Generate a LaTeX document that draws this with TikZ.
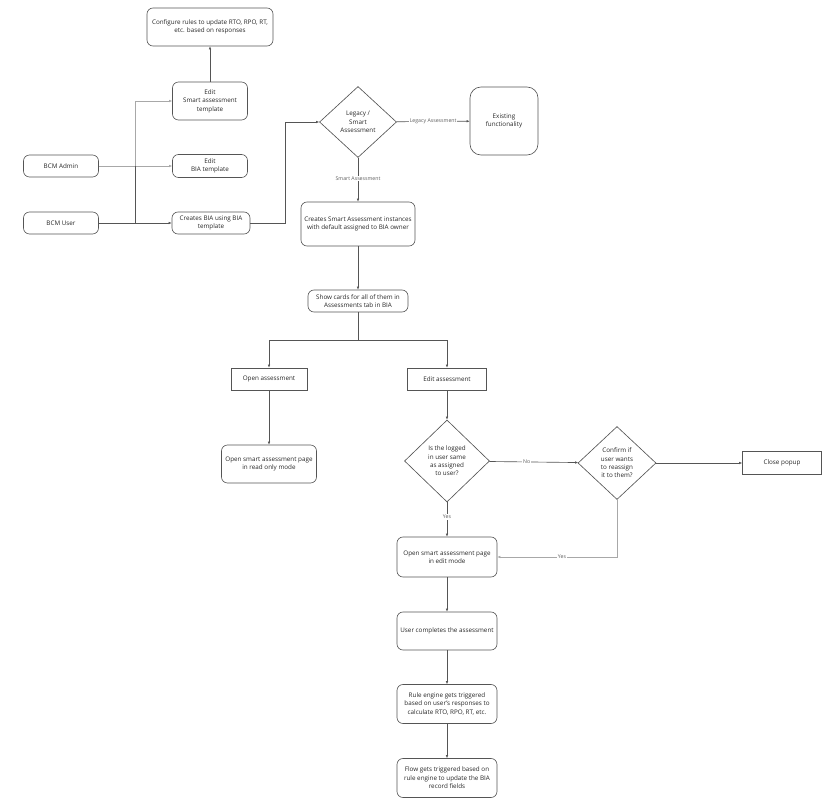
\documentclass[tikz,border=0pt]{standalone}
\usepackage{fontspec}
\setmainfont{Open Sans}
\usetikzlibrary{arrows.meta,shapes.geometric}
\definecolor{flink}{HTML}{262626}
\definecolor{flline}{HTML}{555555}
\definecolor{fllite}{HTML}{A8A8A8}
\definecolor{flmute}{HTML}{5E5E5E}
\tikzset{
  bx/.style={draw=flline, align=center, font=\fontsize{6.3}{8.4}\selectfont, text=flink, inner sep=1pt, line width=0.65pt},
  rbox/.style={bx, rounded corners=6pt},
  sbox/.style={bx},
  dia/.style={bx, diamond, inner sep=0pt},
  arr/.style={-{Latex[length=3pt,width=2.6pt]}, line width=0.65pt, color=flline},
  arrl/.style={-{Latex[length=3pt,width=2.6pt]}, line width=0.8pt, color=fllite},
  lbl/.style={font=\fontsize{5.2}{6}\selectfont, text=flmute, fill=white, inner sep=1pt},
}
\begin{document}
\begin{tikzpicture}[x=1pt,y=-1pt]
  \useasboundingbox (0,0) rectangle (830,805);
  \node[rbox, minimum width=126, minimum height=38] (cfg) at (210,27) {Configure rules to update RTO, RPO, RT,\\etc. based on responses};
  \node[rbox, minimum width=75, minimum height=38] (ets) at (210,101) {Edit\\Smart assessment\\template};
  \node[rbox, minimum width=75, minimum height=23] (ebia) at (210,166) {Edit\\BIA template};
  \node[rbox, minimum width=75, minimum height=22] (adm) at (61,166) {BCM Admin};
  \node[rbox, minimum width=75, minimum height=22] (usr) at (61,223) {BCM User};
  \node[rbox, minimum width=78, minimum height=22] (cbia) at (211,223) {Creates BIA using BIA\\template};
  \node[dia, minimum width=77, minimum height=71] (leg) at (358,122) {Legacy /\\Smart\\Assessment};
  \node[rbox, rounded corners=11pt, minimum width=68, minimum height=68] (exist) at (504,121) {Existing\\functionality};
  \node[rbox, minimum width=114, minimum height=44] (csa) at (358,224) {Creates Smart Assessment instances\\with default assigned to BIA owner};
  \node[rbox, minimum width=100, minimum height=22] (cards) at (358,301) {Show cards for all of them in\\Assessments tab in BIA};
  \node[sbox, minimum width=76, minimum height=22] (oa) at (269,379) {Open assessment};
  \node[sbox, minimum width=79, minimum height=22] (ea) at (447,379) {Edit assessment};
  \node[rbox, minimum width=95, minimum height=38] (ro) at (269,464) {Open smart assessment page\\in read only mode};
  \node[dia, minimum width=85, minimum height=82] (same) at (447,461) {Is the logged\\in user same\\as assigned\\to user?};
  \node[dia, minimum width=78, minimum height=73] (conf) at (617,463) {Confirm if\\user wants\\to reassign\\it to them?};
  \node[sbox, minimum width=79, minimum height=23] (cp) at (782,463) {Close popup};
  \node[rbox, minimum width=100, minimum height=40] (em) at (447,557) {Open smart assessment page\\in edit mode};
  \node[rbox, minimum width=100, minimum height=38] (uc) at (447,631) {User completes the assessment};
  \node[rbox, minimum width=100, minimum height=39] (re) at (447,704) {Rule engine gets triggered\\based on user's responses to\\calculate RTO, RPO, RT, etc.};
  \node[rbox, minimum width=100, minimum height=39] (fl) at (447,778) {Flow gets triggered based on\\rule engine to update the BIA\\record fields};
  \coordinate (ja) at (135,166);
  \coordinate (ju) at (135,223);
  \coordinate (br) at (358,340);
  \draw[arr] (ets) -- (cfg);
  \draw[arrl] (adm) -- (ebia);
  \draw[arrl] (ja) |- (ets.west);
  \draw[arr] (usr) -- (cbia);
  \draw[line width=0.65pt, color=flline] (ju) -- (ja);
  \draw[arr] (cbia.east) -- ++(35,0) |- (leg.west);
  \draw[arr] (leg) -- node[lbl] {Legacy Assessment} (exist);
  \draw[arr] (leg) -- node[lbl, pos=0.47] {Smart Assessment} (csa);
  \draw[arr] (csa) -- (cards);
  \draw[line width=0.65pt, color=flline] (cards) -- (br);
  \draw[arr] (br) -| (oa.north);
  \draw[arr] (br) -| (ea.north);
  \draw[arr] (oa) -- (ro);
  \draw[arr] (ea) -- (same);
  \draw[arr] (same) -- node[lbl, pos=0.42] {No} (conf);
  \draw[arr] (conf) -- (cp);
  \draw[arr] (same) -- node[lbl, pos=0.42] {Yes} (em);
  \draw[arrl] (conf.south) |- node[lbl, pos=0.73] {Yes} (em.east);
  \draw[arr] (em) -- (uc);
  \draw[arr] (uc) -- (re);
  \draw[arr] (re) -- (fl);
\end{tikzpicture}
\end{document}
